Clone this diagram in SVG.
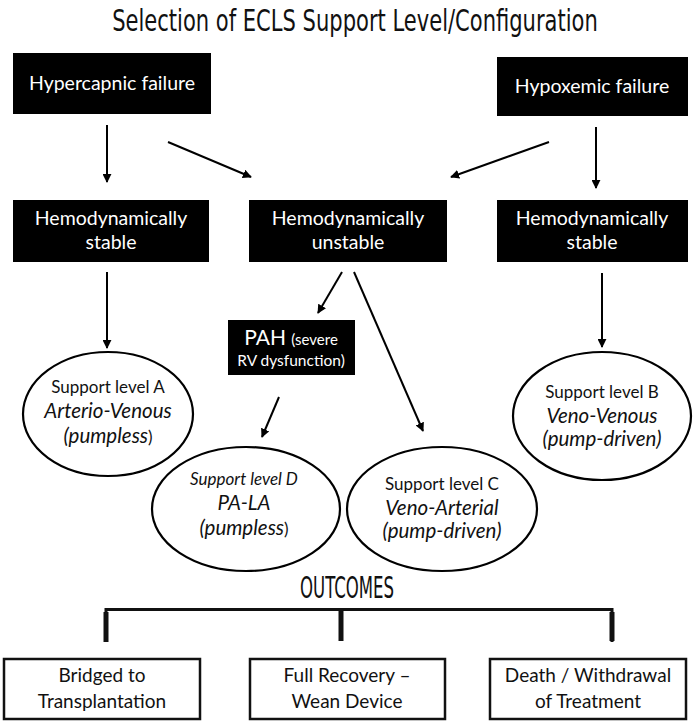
<svg xmlns="http://www.w3.org/2000/svg" width="696" height="724" viewBox="0 0 696 724">
<defs>
<marker id="ah" viewBox="0 0 10 10" refX="9" refY="5" markerWidth="4.5" markerHeight="4.5" orient="auto" markerUnits="strokeWidth">
<path d="M0,0 L10,5 L0,10 z" fill="#000"/>
</marker>
<style>
.bx{fill:#000;}
.bt{fill:#fff;font-family:Lato,"Open Sans",sans-serif;font-size:19.5px;text-anchor:middle;}
.el{fill:#fff;stroke:#000;stroke-width:2.2;}
.et{fill:#111;font-family:Lato,"Open Sans",sans-serif;font-size:17px;text-anchor:middle;}
.it{font-style:italic;font-size:20.5px;}
.hd{fill:#111;font-family:"DejaVu Sans Condensed","DejaVu Sans",sans-serif;font-stretch:condensed;font-size:31px;text-anchor:middle;}
.ob{fill:#fff;stroke:#111;stroke-width:2.5;}
.ot{fill:#111;font-family:Lato,"Open Sans",sans-serif;font-size:19px;text-anchor:middle;}
.ar{stroke:#000;stroke-width:2;fill:none;marker-end:url(#ah);}
</style>
</defs>
<rect width="696" height="724" fill="#fff"/>
<g transform="translate(355 0) scale(0.755 1)"><text class="hd" x="0" y="31">Selection of ECLS Support Level/Configuration</text></g>

<g id="hypercapnic"><rect class="bx" x="13" y="53" width="198" height="61"/><text class="bt" x="112" y="90">Hypercapnic failure</text></g>
<g id="hypoxemic"><rect class="bx" x="497" y="57" width="191" height="59"/><text class="bt" x="592" y="93">Hypoxemic failure</text></g>
<g id="stableL"><rect class="bx" x="13" y="200" width="196" height="62"/><text class="bt" x="111" y="225">Hemodynamically</text><text class="bt" x="111" y="249">stable</text></g>
<g id="unstable"><rect class="bx" x="249" y="200" width="198" height="62"/><text class="bt" x="348" y="225">Hemodynamically</text><text class="bt" x="348" y="249">unstable</text></g>
<g id="stableR"><rect class="bx" x="497" y="200" width="191" height="62"/><text class="bt" x="592" y="225">Hemodynamically</text><text class="bt" x="592" y="249">stable</text></g>
<g id="pah"><rect class="bx" x="228" y="320" width="127" height="55"/><text class="bt" x="291" y="345" style="font-size:21px">PAH <tspan style="font-size:15px">(severe</tspan></text><text class="bt" x="291" y="366" style="font-size:15.5px">RV dysfunction)</text></g>

<g id="levelA"><ellipse class="el" cx="108" cy="414" rx="85" ry="62"/><text class="et" x="108" y="393">Support level A</text><text class="et it" x="108" y="418">Arterio-Venous</text><text class="et" x="108" y="443"><tspan style="font-style:italic;font-size:20.5px">(pumpless</tspan>)</text></g>
<g id="levelB"><ellipse class="el" cx="602" cy="416" rx="89" ry="64"/><text class="et" x="602" y="398">Support level B</text><text class="et it" x="602" y="423">Veno-Venous</text><text class="et it" x="602" y="446">(pump-driven)</text></g>
<g id="levelD"><ellipse class="el" cx="246" cy="509" rx="94" ry="62"/><text class="et" x="244" y="485" style="font-style:italic">Support level D</text><text class="et it" x="244" y="510">PA-LA</text><text class="et" x="244" y="535"><tspan style="font-style:italic;font-size:20.5px">(pumpless</tspan>)</text></g>
<g id="levelC"><ellipse class="el" cx="442" cy="509" rx="95" ry="62"/><text class="et" x="442" y="490">Support level C</text><text class="et it" x="442" y="515">Veno-Arterial</text><text class="et it" x="442" y="538">(pump-driven)</text></g>

<text class="hd" x="347" y="598" textLength="94" lengthAdjust="spacingAndGlyphs">OUTCOMES</text>

<g id="outBridge"><rect class="ob" x="4" y="659" width="196" height="60"/><text class="ot" x="102" y="682">Bridged to</text><text class="ot" x="102" y="708">Transplantation</text></g>
<g id="outRecovery"><rect class="ob" x="250" y="659" width="195" height="60"/><text class="ot" x="347" y="682">Full Recovery –</text><text class="ot" x="347" y="708">Wean Device</text></g>
<g id="outDeath"><rect class="ob" x="490" y="659" width="196" height="60"/><text class="ot" x="588" y="682">Death / Withdrawal</text><text class="ot" x="588" y="708">of Treatment</text></g>

<g id="connectors">
<line class="ar" x1="107" y1="125" x2="107" y2="182"/>
<line class="ar" x1="168" y1="142" x2="251" y2="177"/>
<line class="ar" x1="549" y1="142" x2="451" y2="177"/>
<line class="ar" x1="596" y1="127" x2="596" y2="188"/>
<line class="ar" x1="107" y1="272" x2="107" y2="348"/>
<line class="ar" x1="342" y1="272" x2="318" y2="313"/>
<line class="ar" x1="354" y1="272" x2="423" y2="431"/>
<line class="ar" x1="279" y1="397" x2="262" y2="437"/>
<line class="ar" x1="602" y1="273" x2="602" y2="347"/>
<path d="M106,642 V609.5 H612 V642" fill="none" stroke="#111" stroke-width="3"/>
<line x1="106" y1="612" x2="106" y2="642" stroke="#111" stroke-width="5"/>
<line x1="341" y1="609" x2="341" y2="641" stroke="#111" stroke-width="5"/>
<line x1="612" y1="612" x2="612" y2="641" stroke="#111" stroke-width="5"/>
</g>
</svg>
